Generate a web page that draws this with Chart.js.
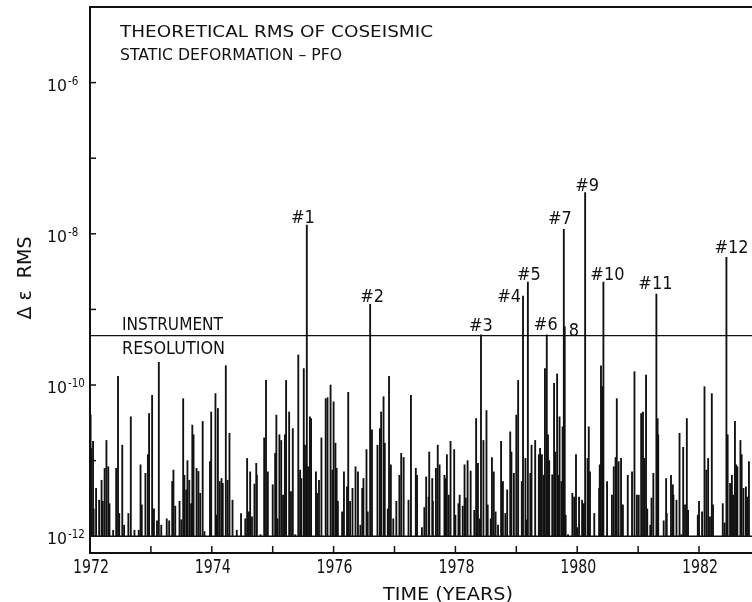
<!DOCTYPE html>
<html>
<head>
<meta charset="utf-8">
<script src="https://cdn.jsdelivr.net/npm/chart.js@4.4.1/dist/chart.umd.min.js"></script>
<style>
  html, body { margin: 0; padding: 0; background: #fff; }
  #wrap { width: 752px; height: 602px; }
</style>
</head>
<body>
<div id="wrap"><canvas id="rmsChart" width="752" height="602"></canvas></div>
<script>
// event times (decimal years) and theoretical RMS strain
const quakeYears = [
    1972.01, 1972.02, 1972.05, 1972.06, 1972.10, 1972.15, 1972.19, 1972.21, 1972.24, 1972.27,
    1972.30, 1972.32, 1972.38, 1972.43, 1972.46, 1972.48, 1972.53, 1972.56, 1972.63, 1972.67,
    1972.73, 1972.80, 1972.83, 1972.85, 1972.91, 1972.95, 1972.97, 1973.02, 1973.05, 1973.10,
    1973.13, 1973.17, 1973.26, 1973.30, 1973.35, 1973.37, 1973.40, 1973.47, 1973.50, 1973.53,
    1973.55, 1973.58, 1973.60, 1973.63, 1973.66, 1973.68, 1973.70, 1973.75, 1973.78, 1973.81,
    1973.85, 1973.88, 1973.97, 1973.99, 1974.06, 1974.07, 1974.10, 1974.13, 1974.16, 1974.18,
    1974.23, 1974.26, 1974.29, 1974.34, 1974.41, 1974.48, 1974.55, 1974.58, 1974.61, 1974.63,
    1974.66, 1974.70, 1974.73, 1974.74, 1974.80, 1974.86, 1974.89, 1974.92, 1975.00, 1975.04,
    1975.06, 1975.08, 1975.11, 1975.14, 1975.17, 1975.20, 1975.22, 1975.27, 1975.30, 1975.33,
    1975.37, 1975.42, 1975.45, 1975.47, 1975.51, 1975.53, 1975.55, 1975.58, 1975.61, 1975.63,
    1975.71, 1975.73, 1975.76, 1975.80, 1975.87, 1975.90, 1975.95, 1975.98, 1976.00, 1976.03,
    1976.05, 1976.07, 1976.14, 1976.17, 1976.22, 1976.24, 1976.27, 1976.31, 1976.36, 1976.40,
    1976.44, 1976.47, 1976.49, 1976.54, 1976.56, 1976.63, 1976.72, 1976.76, 1976.78, 1976.82,
    1976.84, 1976.89, 1976.91, 1976.94, 1976.98, 1977.03, 1977.08, 1977.11, 1977.15, 1977.23,
    1977.27, 1977.35, 1977.37, 1977.45, 1977.49, 1977.52, 1977.56, 1977.57, 1977.62, 1977.63,
    1977.68, 1977.71, 1977.74, 1977.82, 1977.84, 1977.86, 1977.89, 1977.92, 1977.98, 1978.00,
    1978.05, 1978.07, 1978.12, 1978.15, 1978.17, 1978.20, 1978.25, 1978.31, 1978.34, 1978.37,
    1978.40, 1978.46, 1978.51, 1978.53, 1978.58, 1978.60, 1978.63, 1978.66, 1978.70, 1978.75,
    1978.78, 1978.82, 1978.85, 1978.90, 1978.92, 1978.96, 1979.00, 1979.03, 1979.09, 1979.15,
    1979.17, 1979.23, 1979.25, 1979.31, 1979.37, 1979.39, 1979.42, 1979.45, 1979.47, 1979.52,
    1979.54, 1979.59, 1979.62, 1979.64, 1979.67, 1979.70, 1979.71, 1979.74, 1979.76, 1979.81,
    1979.85, 1979.92, 1979.95, 1979.98, 1980.00, 1980.03, 1980.08, 1980.11, 1980.17, 1980.19,
    1980.21, 1980.28, 1980.36, 1980.37, 1980.39, 1980.41, 1980.49, 1980.57, 1980.60, 1980.63,
    1980.65, 1980.68, 1980.72, 1980.75, 1980.83, 1980.90, 1980.94, 1980.98, 1981.01, 1981.05,
    1981.08, 1981.10, 1981.13, 1981.15, 1981.20, 1981.22, 1981.25, 1981.32, 1981.33, 1981.42,
    1981.46, 1981.47, 1981.54, 1981.57, 1981.58, 1981.63, 1981.68, 1981.71, 1981.74, 1981.77,
    1981.80, 1981.82, 1981.98, 1982.00, 1982.05, 1982.09, 1982.12, 1982.15, 1982.18, 1982.21,
    1982.23, 1982.39, 1982.42, 1982.47, 1982.51, 1982.54, 1982.56, 1982.59, 1982.61, 1982.63,
    1982.68, 1982.70, 1982.73, 1982.77, 1982.79, 1982.82
];
const quakeRms = [
    4e-11, 1.45e-11, 1.8e-11, 2.3e-12, 4.3e-12, 3e-12, 5.5e-12, 2.9e-12, 7.9e-12, 1.85e-11,
    8.3e-12, 2.7e-12, 1.2e-12, 7.9e-12, 1.3e-10, 2e-12, 1.6e-11, 1.4e-12, 2e-12, 3.8e-11,
    1.2e-12, 1.2e-12, 8.8e-12, 2.6e-12, 6.8e-12, 1.2e-11, 4.2e-11, 7.3e-11, 2.3e-12, 1.6e-12,
    2e-10, 1.4e-12, 1.7e-12, 1.6e-12, 5.3e-12, 7.5e-12, 2.5e-12, 2.9e-12, 1.65e-12, 6.6e-11,
    6.4e-12, 4.1e-12, 1e-11, 5.5e-12, 2.7e-12, 2.95e-11, 2.2e-11, 7.9e-12, 7.2e-12, 3.7e-12,
    3.3e-11, 1.15e-12, 9.7e-12, 4.4e-11, 7.7e-11, 1.9e-12, 4.9e-11, 5.3e-12, 5.8e-12, 5e-12,
    1.8e-10, 5.5e-12, 2.3e-11, 3e-12, 1.2e-12, 2e-12, 1.7e-12, 1.07e-11, 2.1e-12, 7.1e-12,
    1.8e-12, 4.9e-12, 9.2e-12, 6.4e-12, 1.05e-12, 2e-11, 1.15e-10, 7.1e-12, 4.8e-12, 1.25e-11,
    4e-11, 1.7e-12, 2.2e-11, 1.85e-11, 3.5e-12, 2.2e-11, 1.15e-10, 4.4e-11, 3.9e-12, 2.65e-11,
    1.05e-12, 2.5e-10, 7.5e-12, 5.8e-12, 1.65e-10, 1.6e-11, 8.8e-12, 8.3e-12, 3.8e-11, 3.6e-11,
    7.1e-12, 3.7e-12, 5.5e-12, 2e-11, 6.6e-11, 6.8e-11, 1e-10, 7.5e-12, 6e-11, 1.7e-11,
    7.9e-12, 2.9e-12, 2.1e-12, 7.1e-12, 4.5e-12, 8e-11, 2.9e-12, 4.3e-12, 8.3e-12, 7.1e-12,
    1.4e-12, 4.3e-12, 5.8e-12, 1.4e-11, 2.1e-12, 2.55e-11, 1.6e-11, 2.65e-11, 4.4e-11, 7e-11,
    1.7e-11, 2.3e-12, 1.3e-10, 8.8e-12, 1.7e-12, 2.9e-12, 6.4e-12, 1.25e-11, 1.1e-11, 3e-12,
    7.3e-11, 7.9e-12, 6.4e-12, 1.3e-12, 2.4e-12, 6.1e-12, 3.3e-12, 1.3e-11, 5.8e-12, 2.9e-12,
    7.9e-12, 1.6e-11, 8.8e-12, 6.4e-12, 5.8e-12, 1.2e-11, 3.5e-12, 1.8e-11, 1.4e-11, 1.9e-12,
    2.7e-12, 3.5e-12, 2.5e-12, 8.8e-12, 3.2e-12, 1e-11, 7.3e-12, 2.2e-12, 3.6e-11, 9.2e-12,
    1.7e-12, 1.85e-11, 4.6e-11, 2.6e-12, 1.7e-12, 1.1e-11, 7.1e-12, 2.1e-12, 1.4e-12, 1.8e-11,
    5.3e-12, 2e-12, 4.1e-12, 2.4e-11, 1.3e-11, 6.8e-12, 4e-11, 1.15e-10, 5.3e-12, 1.07e-11,
    1.65e-12, 6.8e-12, 1.6e-11, 1.85e-11, 1.2e-11, 1.45e-11, 1.2e-11, 6.4e-12, 1.65e-10, 2.2e-11,
    1e-11, 6.5e-12, 1.05e-10, 1.3e-11, 1.4e-10, 6.4e-12, 3.8e-11, 5.3e-12, 2.8e-11, 1.9e-12,
    1.05e-12, 3.7e-12, 3.3e-12, 1.2e-11, 1.3e-12, 3.3e-12, 3e-12, 2.7e-12, 1.07e-11, 2.8e-11,
    7.1e-12, 2e-12, 4.3e-12, 8.8e-12, 1.8e-10, 9.5e-11, 5.3e-12, 3.5e-12, 8.3e-12, 1.1e-11,
    6.6e-11, 9.7e-12, 1.07e-11, 2.6e-12, 6.4e-12, 7.1e-12, 1.5e-10, 3.5e-12, 3.5e-12, 4.2e-11,
    4.4e-11, 1.07e-11, 1.35e-10, 2.3e-12, 1.4e-12, 3.2e-12, 6.8e-12, 3.6e-11, 2.2e-11, 1.6e-12,
    5.8e-12, 2e-12, 6.4e-12, 4.8e-12, 3.5e-12, 3e-12, 2.3e-11, 1.05e-12, 1.5e-11, 2.6e-12,
    3.6e-11, 2.2e-12, 1.9e-12, 2.9e-12, 2.1e-12, 9.5e-11, 7.5e-12, 1.07e-11, 1.8e-12, 7.7e-11,
    2.6e-12, 2.7e-12, 1.5e-12, 2.2e-11, 5e-12, 6.4e-12, 3.5e-12, 3.3e-11, 8.8e-12, 8.3e-12,
    1.85e-11, 1.2e-11, 4.3e-12, 4.5e-12, 3.3e-12, 9.7e-12
];

// the numbered events
const namedYears = [1975.56, 1976.60, 1978.42, 1979.11, 1979.19, 1979.50, 1979.78, 1979.795, 1980.13, 1980.43, 1981.30, 1982.45];
const namedRms = [1.3e-8, 1.17e-9, 4.6e-10, 1.5e-9, 2.3e-9, 4.6e-10, 1.15e-8, 5.9e-10, 3.5e-8, 2.3e-9, 1.6e-9, 4.9e-9];
const namedLabels = ["#1", "#2", "#3", "#4", "#5", "#6", "#7", "8", "#9", "#10", "#11", "#12"];

const floorLevel = 1e-12;
const resolutionLevel = 4.5e-10;
const yTickValues = [1e-12, 1e-11, 1e-10, 1e-9, 1e-8, 1e-7, 1e-6];
const yLabelExponents = [-12, -10, -8, -6];
const xTickYears = [1972, 1973, 1974, 1975, 1976, 1977, 1978, 1979, 1980, 1981, 1982];
const xLabelYears = [1972, 1974, 1976, 1978, 1980, 1982];

const X_MIN = 1972, X_MAX = 1982.87;
const INK = "#111";
const FONT = '"DejaVu Sans", "Liberation Sans", sans-serif';

// label placement: [dx, dy, align] relative to the top of each numbered bar
const labelOffsets = [
    [-4, -2, "center"], [2, -2, "center"], [0, -4, "center"], [-2, 6, "right"],
    [1, -2, "center"], [-1, -5, "center"], [-4, -5, "center"], [4, 9, "left"],
    [2, -2, "center"], [4, -2, "center"], [-1, -5, "center"], [5, -4, "center"]
];

// draws text squeezed/stretched horizontally; returns [drawn width, x scale]
function fitText(ctx, text, x, y, size, width, align, scaleX) {
    ctx.font = size + "px " + FONT;
    const w = ctx.measureText(text).width;
    const sx = width ? width / w : (scaleX || 1);
    const drawn = w * sx;
    let left = x;
    if (align === "center") left = x - drawn / 2;
    else if (align === "right") left = x - drawn;
    ctx.save();
    ctx.translate(left, y);
    ctx.scale(sx, 1);
    ctx.textAlign = "left";
    ctx.textBaseline = "alphabetic";
    ctx.fillText(text, 0, 0);
    ctx.restore();
    return [drawn, sx];
}

const decorPlugin = {
    id: "decor",
    afterDatasetsDraw(chart) {
        const ctx = chart.ctx;
        const xs = chart.scales.x, ys = chart.scales.y;
        const a = chart.chartArea;
        ctx.save();
        ctx.fillStyle = INK;
        ctx.strokeStyle = INK;

        // frame: top, left, bottom (x axis)
        ctx.lineWidth = 2;
        ctx.beginPath();
        ctx.moveTo(a.right, a.top);
        ctx.lineTo(a.left, a.top);
        ctx.lineTo(a.left, a.bottom);
        ctx.lineTo(a.right, a.bottom);
        ctx.stroke();

        // y ticks point into the plot
        ctx.lineWidth = 1.5;
        yTickValues.forEach(v => {
            const y = ys.getPixelForValue(v);
            ctx.beginPath();
            ctx.moveTo(a.left, y);
            ctx.lineTo(a.left + 6, y);
            ctx.stroke();
        });
        yLabelExponents.forEach(e => {
            const y = ys.getPixelForValue(Math.pow(10, e));
            const w = fitText(ctx, "10", 47, y + 8, 16, 20, "left")[0];
            fitText(ctx, "-" + Math.abs(e), 47 + w + 1, y + 2, 11.5, null, "left", 0.9);
        });

        // x ticks point up from the axis line
        xTickYears.forEach(t => {
            const x = xs.getPixelForValue(t);
            ctx.beginPath();
            ctx.moveTo(x, a.bottom);
            ctx.lineTo(x, a.bottom - 7);
            ctx.stroke();
        });
        xLabelYears.forEach(t => {
            fitText(ctx, String(t), xs.getPixelForValue(t) + 1, a.bottom + 20, 19, 36, "center");
        });
        fitText(ctx, "TIME (YEARS)", 448, 600, 18, 130, "center");

        // y axis title, rotated
        ctx.save();
        ctx.translate(31, 278);
        ctx.rotate(-Math.PI / 2);
        fitText(ctx, "Δ ε  RMS", 0, 0, 20, 83, "center");
        ctx.restore();

        // caption
        fitText(ctx, "THEORETICAL RMS OF COSEISMIC", 120, 37, 16.5, 313, "left");
        fitText(ctx, "STATIC DEFORMATION – PFO", 120, 60, 16.5, 222, "left");

        // instrument resolution caption
        const ry = ys.getPixelForValue(resolutionLevel);
        fitText(ctx, "INSTRUMENT", 122, ry - 6, 17.5, 101, "left");
        fitText(ctx, "RESOLUTION", 122, ry + 18, 17.5, 103, "left");

        // numbered events
        namedLabels.forEach((lab, i) => {
            const bx = xs.getPixelForValue(namedYears[i]);
            const by = ys.getPixelForValue(namedRms[i]);
            const off = labelOffsets[i];
            fitText(ctx, lab, bx + off[0], by + off[1], 17, null, off[2], 0.95);
        });
        ctx.restore();
    }
};

const barStyle = {
    backgroundColor: INK,
    borderWidth: 0,
    barThickness: 1.2,
    grouped: false
};

const rmsChart = new Chart(document.getElementById("rmsChart"), {
    type: "bar",
    data: {
        datasets: [
            Object.assign({
                label: "events",
                data: quakeYears.map((t, i) => ({ x: t, y: [floorLevel, quakeRms[i]] }))
            }, barStyle),
            Object.assign({
                label: "numbered events",
                data: namedYears.map((t, i) => ({ x: t, y: [floorLevel, namedRms[i]] }))
            }, barStyle),
            {
                type: "line",
                label: "baseline",
                data: [{ x: X_MIN, y: floorLevel }, { x: X_MAX, y: floorLevel }],
                borderColor: INK,
                borderWidth: 1.6,
                pointRadius: 0
            },
            {
                type: "line",
                label: "instrument resolution",
                data: [{ x: X_MIN, y: resolutionLevel }, { x: X_MAX, y: resolutionLevel }],
                borderColor: INK,
                borderWidth: 1.4,
                pointRadius: 0
            }
        ]
    },
    options: {
        responsive: false,
        devicePixelRatio: 1,
        animation: false,
        layout: { padding: { left: 90, top: 7, right: 0, bottom: 49 } },
        scales: {
            x: { type: "linear", min: X_MIN, max: X_MAX, offset: false, display: false },
            y: { type: "logarithmic", min: 6.27e-13, max: 1e-5, display: false }
        },
        plugins: {
            legend: { display: false },
            tooltip: { enabled: false }
        }
    },
    plugins: [decorPlugin]
});
</script>
</body>
</html>
